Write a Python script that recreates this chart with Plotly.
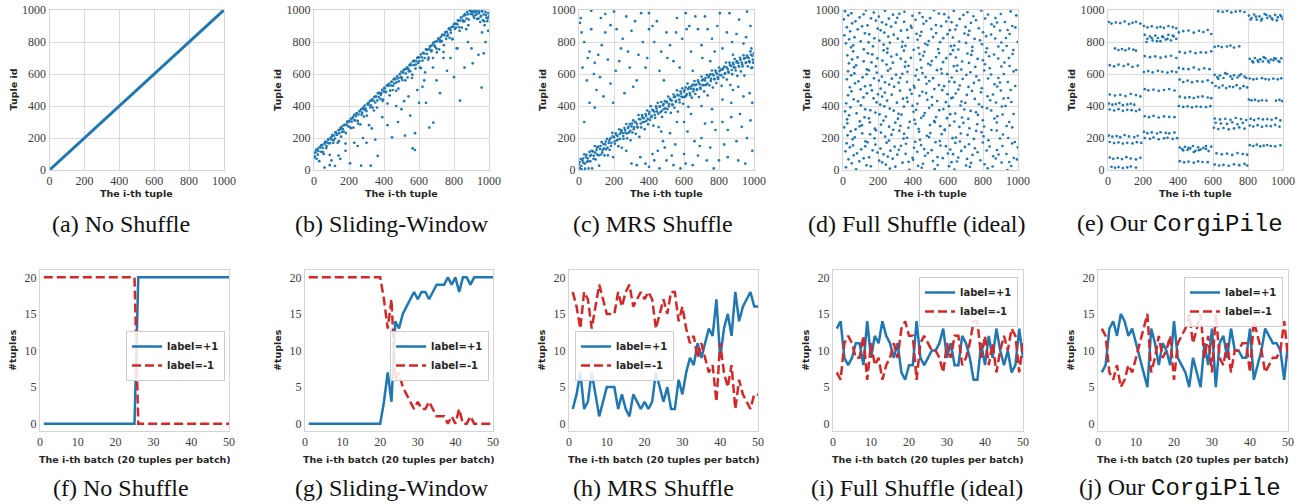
import plotly.graph_objects as go

# ---------------- data ----------------
# (a) No Shuffle: tuple id equals position
a_x = [0, 999]
a_y = [0, 999]

# (b) Sliding-Window: (i-th tuple, tuple id)
b_points = [
    (0, 107), (5, 85), (10, 111), (15, 70), (20, 132), (25, 118), (30, 55), (35, 140), (40, 114), (45, 155),
    (50, 138), (55, 100), (60, 163), (65, 178), (70, 137), (75, 172), (80, 189), (85, 167), (90, 95), (95, 201),
    (100, 190), (105, 219), (110, 170), (115, 215), (120, 197), (125, 236), (130, 225), (135, 170), (140, 248),
    (145, 230), (150, 254), (155, 208), (160, 272), (165, 256), (170, 240), (175, 282), (180, 165), (185, 284),
    (190, 303), (195, 273), (200, 305), (205, 268), (210, 320), (215, 302), (220, 322), (225, 265), (230, 344),
    (235, 310), (240, 336), (245, 354), (250, 307), (255, 347), (260, 366), (265, 285), (270, 381), (275, 358),
    (280, 381), (285, 334), (290, 403), (295, 384), (300, 368), (305, 413), (310, 408), (315, 280), (320, 432),
    (325, 404), (330, 434), (335, 390), (340, 434), (345, 455), (350, 422), (355, 458), (360, 390), (365, 479),
    (370, 456), (375, 482), (380, 444), (385, 482), (390, 501), (395, 440), (400, 491), (405, 510), (410, 486),
    (415, 528), (420, 415), (425, 525), (430, 539), (435, 496), (440, 528), (445, 551), (450, 500), (455, 567),
    (460, 542), (465, 567), (470, 495), (475, 585), (480, 573), (485, 554), (490, 598), (495, 579), (500, 614),
    (505, 562), (510, 609), (515, 430), (520, 631), (525, 603), (530, 633), (535, 578), (540, 630), (545, 654),
    (550, 617), (555, 656), (560, 575), (565, 678), (570, 655), (575, 681), (580, 634), (585, 681), (590, 700),
    (595, 668), (600, 704), (605, 640), (610, 722), (615, 704), (620, 683), (625, 732), (630, 728), (635, 610),
    (640, 754), (645, 725), (650, 752), (655, 702), (660, 754), (665, 774), (670, 741), (675, 780), (680, 700),
    (685, 798), (690, 777), (695, 803), (700, 759), (705, 805), (710, 821), (715, 754), (720, 812), (725, 831),
    (730, 805), (735, 847), (740, 737), (745, 842), (750, 859), (755, 820), (760, 863), (765, 847), (770, 884),
    (775, 826), (780, 875), (785, 892), (790, 817), (795, 896), (800, 911), (805, 882), (810, 915), (815, 760),
    (820, 910), (825, 935), (830, 892), (835, 934), (840, 953), (845, 890), (850, 936), (855, 963), (860, 930),
    (865, 969), (870, 880), (875, 987), (880, 973), (885, 940), (890, 996), (895, 975), (900, 998), (905, 972),
    (910, 990), (915, 950), (920, 985), (925, 968), (930, 995), (935, 978), (940, 946), (945, 991), (950, 925),
    (955, 964), (960, 998), (965, 937), (970, 972), (975, 905), (980, 988), (985, 952), (990, 930), (995, 981),
    (1000, 960),
    (2, 78), (12, 126), (22, 96), (32, 143), (42, 155), (52, 112), (62, 171), (72, 150), (82, 192), (92, 168),
    (102, 210), (112, 186), (122, 235), (132, 219), (142, 180), (152, 263), (162, 238), (172, 281), (182, 231),
    (192, 299), (202, 306), (212, 262), (222, 330), (232, 311), (242, 352), (252, 290), (262, 369), (272, 346),
    (282, 392), (292, 375), (302, 340), (312, 420), (322, 392), (332, 441), (342, 372), (352, 460), (362, 435),
    (372, 481), (382, 470), (392, 431), (402, 513), (412, 489), (422, 532), (432, 467), (442, 551), (452, 527),
    (462, 573), (472, 548), (482, 508), (492, 601), (502, 577), (512, 624), (522, 560), (532, 642), (542, 617),
    (552, 663), (562, 596), (572, 684), (582, 659), (592, 703), (602, 680), (612, 637), (622, 731), (632, 700),
    (642, 752), (652, 690), (662, 771), (672, 748), (682, 793), (692, 770), (702, 735), (712, 822), (722, 800),
    (732, 843), (742, 780), (752, 862), (762, 838), (772, 883), (782, 858), (792, 819), (802, 913), (812, 890),
    (822, 934), (832, 870), (842, 953), (852, 928), (862, 974), (872, 946), (882, 905), (892, 995), (902, 985),
    (912, 962), (922, 999), (932, 944), (942, 980), (952, 958), (962, 990), (972, 930), (982, 970), (992, 948),
    (564, 135), (577, 125), (682, 296), (659, 265), (834, 433), (958, 515), (907, 667), (970, 729),
    (520, 215), (577, 230), (446, 204), (364, 88), (269, 27), (324, 27), (206, 42), (120, 25),
    (60, 15), (90, 30), (150, 70), (250, 150), (300, 170), (350, 190), (420, 280), (480, 300),
    (500, 380), (550, 340), (600, 420), (620, 520), (640, 420), (700, 560), (720, 480), (760, 620),
    (780, 700), (800, 580), (820, 760), (860, 640), (880, 800), (900, 760), (940, 720), (960, 860),
    (980, 800), (995, 870), (740, 700), (680, 640), (630, 560), (590, 500), (540, 460), (470, 400),
    (390, 330), (330, 260), (280, 200), (230, 170), (180, 120), (140, 90), (100, 60),
]

# (c) MRS Shuffle
c_points = [
    (0, 35), (5, 12), (10, 68), (15, 4), (20, 58), (25, 45), (30, 98), (35, 8), (40, 80), (45, 51), (50, 72),
    (55, 10), (60, 113), (65, 54), (70, 94), (75, 10), (80, 116), (85, 89), (90, 150), (95, 66), (100, 125),
    (105, 96), (110, 146), (115, 27), (120, 131), (125, 97), (130, 174), (135, 126), (140, 162), (145, 91),
    (150, 160), (155, 129), (160, 194), (165, 92), (170, 169), (175, 126), (180, 199), (185, 170), (190, 232),
    (195, 81), (200, 204), (205, 164), (210, 229), (215, 185), (220, 212), (225, 149), (230, 254), (235, 195),
    (240, 238), (245, 139), (250, 231), (255, 195), (260, 262), (265, 233), (270, 287), (275, 198), (280, 262),
    (285, 234), (290, 287), (295, 186), (300, 273), (305, 234), (310, 310), (315, 266), (320, 300), (325, 226),
    (330, 289), (335, 265), (340, 343), (345, 207), (350, 317), (355, 266), (360, 343), (365, 300), (370, 323),
    (375, 255), (380, 350), (385, 307), (390, 372), (395, 286), (400, 350), (405, 313), (410, 399), (415, 338),
    (420, 376), (425, 277), (430, 365), (435, 326), (440, 398), (445, 366), (450, 420), (455, 268), (460, 398),
    (465, 361), (470, 425), (475, 332), (480, 404), (485, 381), (490, 431), (495, 361), (500, 422), (505, 381),
    (510, 459), (515, 412), (520, 444), (525, 357), (530, 434), (535, 406), (540, 472), (545, 389), (550, 459),
    (555, 432), (560, 498), (565, 365), (570, 465), (575, 422), (580, 492), (585, 459), (590, 511), (595, 414),
    (600, 490), (605, 457), (610, 516), (615, 475), (620, 540), (625, 395), (630, 516), (635, 467), (640, 508),
    (645, 452), (650, 534), (655, 507), (660, 556), (665, 475), (670, 534), (675, 505), (680, 560), (685, 456),
    (690, 536), (695, 507), (700, 584), (705, 531), (710, 566), (715, 491), (720, 560), (725, 531), (730, 594),
    (735, 466), (740, 578), (745, 529), (750, 598), (755, 569), (760, 622), (765, 515), (770, 592), (775, 567),
    (780, 622), (785, 543), (790, 600), (795, 569), (800, 640), (805, 595), (810, 627), (815, 526), (820, 627),
    (825, 578), (830, 646), (835, 605), (840, 672), (845, 565), (850, 631), (855, 608), (860, 671), (865, 531),
    (870, 650), (875, 599), (880, 670), (885, 641), (890, 693), (895, 622), (900, 673), (905, 588), (910, 668),
    (915, 647), (920, 701), (925, 616), (930, 672), (935, 647), (940, 717), (945, 590), (950, 700), (955, 673),
    (960, 715), (965, 648), (970, 700), (975, 673), (980, 741), (985, 638), (990, 714), (995, 671), (1000, 729),
    (3, 50), (13, 25), (23, 72), (33, 40), (43, 95), (53, 55), (63, 88), (73, 120), (83, 70), (93, 108),
    (103, 140), (113, 92), (123, 150), (133, 110), (143, 135), (153, 178), (163, 140), (173, 185), (183, 150),
    (193, 210), (203, 178), (213, 220), (223, 190), (233, 225), (243, 248), (253, 212), (263, 250), (273, 228),
    (283, 270), (293, 245), (303, 290), (313, 255), (323, 300), (333, 272), (343, 318), (353, 290), (363, 330),
    (373, 300), (383, 338), (393, 320), (403, 362), (413, 330), (423, 372), (433, 345), (443, 385), (453, 352),
    (463, 395), (473, 370), (483, 412), (493, 385), (503, 426), (513, 398), (523, 438), (533, 410), (543, 455),
    (553, 425), (563, 470), (573, 440), (583, 478), (593, 455), (603, 500), (613, 465), (623, 506), (633, 480),
    (643, 525), (653, 492), (663, 530), (673, 500), (683, 548), (693, 515), (703, 560), (713, 530), (723, 575),
    (733, 540), (743, 588), (753, 556), (763, 598), (773, 570), (783, 610), (793, 580), (803, 618), (813, 592),
    (823, 634), (833, 600), (843, 642), (853, 615), (863, 655), (873, 625), (883, 660), (893, 640), (903, 680),
    (913, 650), (923, 688), (933, 660), (943, 696), (953, 668), (963, 705), (973, 680), (983, 720), (993, 690),
    (10, 950), (6, 920), (70, 995), (125, 950), (150, 975), (180, 905), (30, 800), (60, 740), (90, 670),
    (20, 640), (45, 560), (120, 580), (180, 540), (210, 620), (250, 820), (240, 760), (300, 870), (320, 930),
    (340, 720), (380, 640), (400, 980), (420, 900), (430, 800), (470, 740), (500, 860), (520, 780), (540, 680),
    (560, 950), (590, 820), (630, 900), (640, 740), (680, 880), (700, 780), (720, 960), (760, 820), (790, 900),
    (820, 760), (860, 980), (900, 850), (940, 790), (980, 900), (960, 990), (140, 460), (90, 390), (30, 300),
    (60, 420), (260, 480), (230, 680), (330, 560), (150, 860), (460, 620), (610, 980), (750, 680), (880, 720),
    (990, 640), (400, 880), (280, 740), (70, 880), (110, 720), (200, 990), (300, 40), (350, 80), (400, 20),
    (450, 120), (500, 60), (550, 160), (600, 100), (650, 30), (700, 200), (750, 140), (800, 60), (850, 250),
    (900, 180), (950, 40), (980, 310), (920, 350), (870, 420), (820, 300), (760, 380), (720, 290), (680, 90),
    (620, 240), (580, 10), (520, 230), (480, 180), (420, 100), (380, 40), (460, 10), (990, 120), (930, 270),
    (850, 80), (770, 10), (560, 300), (640, 350), (700, 400), (880, 500), (940, 460), (990, 420), (660, 180),
    (540, 30), (15, 860), (50, 700), (85, 600), (100, 500), (130, 780), (165, 690), (195, 420), (215, 880),
    (270, 960), (290, 640), (310, 520), (355, 980), (365, 800), (390, 700), (445, 930), (485, 560), (505, 700),
    (555, 860), (575, 640), (615, 880), (650, 620), (665, 960), (705, 700), (735, 880), (775, 740), (805, 980),
    (845, 860), (875, 800), (915, 940), (955, 830), (985, 760), (270, 120), (330, 30), (430, 60), (490, 140),
    (530, 90), (610, 40), (690, 150), (730, 60), (780, 250), (830, 160), (870, 330), (910, 60), (960, 200),
    (975, 480), (910, 520), (820, 440), (760, 300), (600, 300), (470, 240),
]

# (d) Full Shuffle (ideal): rows of points (x values, y values)
d_rows = [
    ([12, 48, 131, 176, 240, 322, 351, 437, 520, 548, 633, 711, 790, 902, 958],
     [992, 979, 998, 984, 996, 976, 989, 981, 999, 978, 994, 986, 997, 975, 991]),
    ([30, 95, 118, 205, 286, 310, 397, 455, 579, 604, 688, 745, 829, 871, 990],
     [967, 954, 973, 959, 971, 951, 964, 956, 974, 953, 969, 961, 972, 950, 966]),
    ([5, 71, 160, 188, 262, 349, 415, 476, 498, 590, 667, 760, 812, 925],
     [942, 929, 948, 934, 946, 926, 939, 931, 949, 928, 944, 936, 947, 925]),
    ([52, 140, 223, 247, 301, 388, 460, 531, 620, 650, 731, 849, 880, 967],
     [917, 904, 923, 909, 921, 901, 914, 906, 924, 903, 919, 911, 922, 900]),
    ([22, 84, 109, 198, 275, 366, 392, 505, 561, 642, 700, 776, 864, 941, 985],
     [892, 879, 898, 884, 896, 876, 889, 881, 899, 878, 894, 886, 897, 875, 891]),
    ([41, 125, 215, 236, 331, 420, 448, 532, 611, 694, 722, 800, 897, 952],
     [867, 854, 873, 859, 871, 851, 864, 856, 874, 853, 869, 861, 872, 850]),
    ([8, 66, 150, 259, 290, 371, 441, 515, 597, 628, 716, 818, 846, 931],
     [842, 829, 848, 834, 846, 826, 839, 831, 849, 828, 844, 836, 847, 825]),
    ([35, 101, 179, 208, 313, 340, 426, 490, 573, 664, 752, 783, 870, 998],
     [817, 804, 823, 809, 821, 801, 814, 806, 824, 803, 819, 811, 822, 800]),
    ([17, 58, 146, 232, 268, 357, 470, 483, 555, 636, 703, 794, 905, 935],
     [792, 779, 798, 784, 796, 776, 789, 781, 799, 778, 794, 786, 797, 775]),
    ([46, 119, 171, 254, 337, 404, 431, 544, 617, 659, 739, 822, 888, 973],
     [767, 754, 773, 759, 771, 751, 764, 756, 774, 753, 769, 761, 772, 750]),
    ([58, 142, 232, 253, 348, 437, 465, 549, 628, 711, 739, 817, 914, 969],
     [742, 729, 748, 734, 746, 726, 739, 731, 749, 728, 744, 736, 747, 725]),
    ([25, 83, 167, 276, 307, 388, 458, 532, 614, 645, 733, 835, 863, 948],
     [717, 704, 723, 709, 721, 701, 714, 706, 724, 703, 719, 711, 722, 700]),
    ([52, 118, 196, 225, 330, 357, 443, 507, 590, 681, 769, 800, 887],
     [692, 679, 698, 684, 696, 676, 689, 681, 699, 678, 694, 686, 697]),
    ([34, 75, 163, 249, 285, 374, 487, 500, 572, 653, 720, 811, 922, 952],
     [667, 654, 673, 659, 671, 651, 664, 656, 674, 653, 669, 661, 672, 650]),
    ([63, 136, 188, 271, 354, 421, 448, 561, 634, 676, 756, 839, 905, 990],
     [642, 629, 648, 634, 646, 626, 639, 631, 649, 628, 644, 636, 647, 625]),
    ([29, 65, 148, 193, 257, 339, 368, 454, 537, 565, 650, 728, 807, 919, 975],
     [617, 604, 623, 609, 621, 601, 614, 606, 624, 603, 619, 611, 622, 600, 616]),
    ([47, 112, 135, 222, 303, 327, 414, 472, 596, 621, 705, 762, 846, 888],
     [592, 579, 598, 584, 596, 576, 589, 581, 599, 578, 594, 586, 597, 575]),
    ([22, 88, 177, 205, 279, 366, 432, 493, 515, 607, 684, 777, 829, 942],
     [567, 554, 573, 559, 571, 551, 564, 556, 574, 553, 569, 561, 572, 550]),
    ([69, 157, 240, 264, 318, 405, 477, 548, 637, 667, 748, 866, 897, 984],
     [542, 529, 548, 534, 546, 526, 539, 531, 549, 528, 544, 536, 547, 525]),
    ([39, 101, 126, 215, 292, 383, 409, 522, 578, 659, 717, 793, 881, 958],
     [517, 504, 523, 509, 521, 501, 514, 506, 524, 503, 519, 511, 522, 500]),
    ([48, 137, 165, 239, 326, 392, 453, 475, 567, 644, 737, 789, 902],
     [492, 479, 498, 484, 496, 476, 489, 481, 499, 478, 494, 486, 497]),
    ([29, 117, 200, 224, 278, 365, 437, 508, 597, 627, 708, 826, 857, 944],
     [467, 454, 473, 459, 471, 451, 464, 456, 474, 453, 469, 461, 472, 450]),
    ([61, 86, 175, 252, 343, 369, 482, 538, 619, 677, 753, 841, 918, 962],
     [442, 429, 448, 434, 446, 426, 439, 431, 449, 428, 444, 436, 447, 425]),
    ([18, 102, 192, 213, 308, 397, 425, 509, 588, 671, 699, 777, 874, 929],
     [417, 404, 423, 409, 421, 401, 414, 406, 424, 403, 419, 411, 422, 400]),
    ([43, 127, 236, 267, 348, 418, 492, 574, 605, 693, 795, 823, 908],
     [392, 379, 398, 384, 396, 376, 389, 381, 399, 378, 394, 386, 397]),
    ([12, 78, 156, 185, 290, 317, 403, 467, 550, 641, 729, 760, 847, 975],
     [367, 354, 373, 359, 371, 351, 364, 356, 374, 353, 369, 361, 372, 350]),
    ([35, 123, 209, 245, 334, 447, 460, 532, 613, 680, 771, 882, 912],
     [342, 329, 348, 334, 346, 326, 339, 331, 349, 328, 344, 336, 347]),
    ([23, 96, 148, 231, 314, 381, 408, 521, 594, 636, 716, 799, 865, 950],
     [317, 304, 323, 309, 321, 301, 314, 306, 324, 303, 319, 311, 322, 300]),
    ([25, 108, 153, 217, 299, 328, 414, 497, 525, 610, 688, 767, 879, 935],
     [292, 279, 298, 284, 296, 276, 289, 281, 299, 278, 294, 286, 297, 275]),
    ([7, 72, 95, 182, 263, 287, 374, 432, 556, 581, 665, 722, 806, 848, 967],
     [267, 254, 273, 259, 271, 251, 264, 256, 274, 253, 269, 261, 272, 250, 266]),
    ([44, 110, 188, 217, 322, 349, 435, 499, 582, 673, 761, 792, 879],
     [242, 229, 248, 234, 246, 226, 239, 231, 249, 228, 244, 236, 247]),
    ([26, 67, 155, 241, 277, 366, 479, 492, 564, 645, 712, 803, 914, 944],
     [217, 204, 223, 209, 221, 201, 214, 206, 224, 203, 219, 211, 222, 200]),
    ([55, 128, 180, 263, 346, 413, 440, 553, 626, 668, 748, 831, 897, 982],
     [192, 179, 198, 184, 196, 176, 189, 181, 199, 178, 194, 186, 197, 175]),
    ([21, 57, 140, 185, 249, 331, 360, 446, 529, 557, 642, 720, 799, 911, 967],
     [167, 154, 173, 159, 171, 151, 164, 156, 174, 153, 169, 161, 172, 150, 166]),
    ([39, 104, 127, 214, 295, 319, 406, 464, 588, 613, 697, 754, 838, 880, 999],
     [142, 129, 148, 134, 146, 126, 139, 131, 149, 128, 144, 136, 147, 125, 141]),
    ([14, 80, 169, 197, 271, 358, 424, 485, 507, 599, 676, 769, 821, 934],
     [117, 104, 123, 109, 121, 101, 114, 106, 124, 103, 119, 111, 122, 100]),
    ([61, 149, 232, 256, 310, 397, 469, 540, 629, 659, 740, 858, 889, 976],
     [92, 79, 98, 84, 96, 76, 89, 81, 99, 78, 94, 86, 97, 75]),
    ([31, 93, 118, 207, 284, 375, 401, 514, 570, 651, 709, 785, 873, 950, 994],
     [67, 54, 73, 59, 71, 51, 64, 56, 74, 53, 69, 61, 72, 50, 66]),
    ([50, 134, 224, 245, 340, 429, 457, 541, 620, 703, 731, 809, 906, 961],
     [42, 29, 48, 34, 46, 26, 39, 31, 49, 28, 44, 36, 47, 25]),
    ([17, 75, 159, 268, 299, 380, 450, 524, 606, 637, 725, 827, 855, 940],
     [17, 4, 23, 9, 21, 1, 14, 6, 24, 3, 19, 11, 22, 0]),
]

# (e) CorgiPile: horizontal strips inside each block (x values, y values)
e_strips = [
    ([5, 20, 45, 70, 95, 120, 140, 160, 185], [925, 915, 922, 918, 928, 912, 920, 926, 915]),
    ([40, 60, 80, 100, 120, 145, 160], [760, 750, 756, 748, 758, 752, 746]),
    ([10, 35, 60, 90, 115, 140, 170], [655, 648, 658, 650, 660, 645, 652]),
    ([10, 40, 70, 100, 130, 160, 185], [472, 465, 470, 462, 475, 468, 460]),
    ([5, 25, 45, 65, 85, 110, 130, 150], [415, 408, 412, 418, 405, 410, 414, 408]),
    ([10, 35, 60, 85, 110, 135, 160, 180], [378, 372, 380, 370, 376, 374, 368, 377]),
    ([5, 25, 50, 70, 95, 120, 150, 170], [215, 208, 212, 205, 218, 210, 206, 214]),
    ([10, 35, 60, 85, 110, 140, 165, 190], [175, 168, 172, 165, 170, 166, 174, 169]),
    ([10, 30, 55, 80, 105, 130, 160, 185], [78, 70, 75, 68, 80, 72, 66, 76]),
    ([20, 40, 60, 85, 110, 130, 160], [20, 14, 18, 12, 16, 22, 15]),
    ([205, 225, 250, 280, 300, 320, 345, 370, 390], [900, 892, 898, 890, 895, 888, 900, 893, 886]),
    ([210, 225, 240, 255, 270, 285, 300, 315, 330, 345, 360, 375, 390, 220, 250, 280, 310, 340, 370],
     [845, 820, 835, 810, 840, 825, 805, 830, 815, 845, 810, 835, 820, 800, 825, 805, 835, 820, 840]),
    ([210, 240, 270, 300, 330, 360, 390], [712, 705, 710, 702, 708, 714, 700]),
    ([205, 230, 255, 285, 310, 340, 365, 390], [612, 618, 610, 620, 614, 608, 616, 612]),
    ([210, 230, 260, 290, 320, 350, 380], [505, 498, 502, 495, 500, 506, 497]),
    ([210, 235, 260, 290, 320, 350, 380], [336, 330, 338, 328, 335, 332, 330]),
    ([205, 225, 250, 280, 300, 330, 350, 380], [238, 230, 235, 228, 236, 232, 229, 234]),
    ([210, 240, 260, 290, 320, 340, 370, 395], [200, 195, 203, 192, 198, 201, 194, 199]),
    ([405, 430, 460, 490, 520, 545, 570, 590], [860, 868, 872, 858, 870, 862, 875, 850]),
    ([410, 440, 470, 500, 530, 560, 590], [738, 732, 740, 730, 736, 734, 742]),
    ([405, 430, 460, 490, 520, 550, 580], [638, 632, 630, 640, 628, 636, 630]),
    ([410, 430, 455, 480, 510, 540, 570, 595], [565, 550, 558, 548, 555, 552, 560, 545]),
    ([410, 440, 465, 490, 515, 540, 570, 590], [458, 452, 455, 450, 457, 460, 453, 449]),
    ([405, 430, 455, 480, 505, 530, 560, 585], [400, 394, 398, 392, 397, 395, 393, 399]),
    ([410, 425, 440, 455, 470, 485, 500, 515, 530, 545, 560, 575, 590, 430, 460, 490, 520, 560],
     [140, 130, 145, 125, 135, 150, 120, 142, 128, 138, 132, 118, 146, 122, 138, 112, 124, 150]),
    ([410, 435, 460, 490, 515, 540, 570], [55, 48, 52, 46, 54, 50, 49]),
    ([630, 655, 680, 705, 730, 755, 780], [992, 988, 995, 985, 990, 993, 987]),
    ([610, 630, 650, 680, 700, 720, 750], [770, 775, 768, 772, 778, 765, 773]),
    ([610, 625, 640, 660, 680, 700, 720, 740, 760, 780, 630, 670, 710, 750, 790],
     [595, 580, 590, 575, 600, 585, 592, 578, 598, 584, 570, 605, 570, 590, 575]),
    ([615, 635, 655, 675, 695, 715, 735, 755, 775, 795], [525, 515, 528, 512, 522, 518, 530, 510, 524, 516]),
    ([610, 640, 670, 700, 730, 760, 790], [322, 316, 320, 314, 325, 318, 312]),
    ([615, 645, 680, 710, 740, 770], [295, 290, 288, 298, 286, 294]),
    ([605, 630, 660, 690, 720, 750, 780], [264, 256, 262, 254, 260, 266, 258]),
    ([620, 650, 680, 710, 740, 770, 795], [104, 98, 102, 94, 106, 100, 96]),
    ([610, 635, 660, 690, 720, 750, 780, 795], [34, 28, 32, 26, 36, 30, 38, 28]),
    ([805, 820, 835, 850, 865, 880, 895, 910, 925, 940, 955, 970, 985, 998, 815, 845, 875, 905, 935, 965, 990],
     [965, 950, 972, 940, 960, 945, 975, 950, 962, 940, 970, 955, 968, 945, 940, 958, 935, 968, 950, 935, 960]),
    ([810, 825, 840, 855, 870, 885, 900, 915, 930, 945, 960, 975, 990, 830, 860, 890, 920, 950, 980],
     [695, 680, 700, 685, 692, 678, 698, 682, 690, 686, 694, 680, 698, 672, 675, 705, 672, 700, 676]),
    ([810, 830, 850, 880, 900, 920, 945, 970, 990], [572, 566, 570, 574, 568, 565, 571, 567, 573]),
    ([805, 820, 840, 860, 880, 905, 960, 980, 995], [440, 435, 438, 432, 436, 434, 433, 438, 431]),
    ([815, 835, 860, 885, 910, 935, 960, 985], [320, 312, 322, 316, 318, 314, 324, 310]),
    ([810, 830, 855, 880, 905, 930, 955, 980], [278, 272, 280, 270, 276, 274, 282, 271]),
    ([810, 830, 850, 870, 890, 910, 930, 955, 985], [155, 150, 158, 148, 152, 156, 150, 148, 154]),
]

# bottom row: number of tuples per batch with each label
batch = list(range(1, 51))
f_pos = [0] * 25 + [20] * 25
f_neg = [20] * 25 + [0] * 25
g_pos = [0] * 20 + [3, 7, 3, 14, 13, 15, 16, 17, 18, 17, 18, 18, 17, 18, 19, 19, 19, 20, 19, 20,
                    18, 20, 20, 19, 20, 20, 20, 20, 20, 20]
g_neg = [20] * 20 + [17, 13, 17, 6, 7, 5, 4, 3, 2, 3, 2, 2, 3, 2, 1, 1, 1, 0, 1, 0,
                     2, 0, 0, 1, 0, 0, 0, 0, 0, 0]
h_pos = [2, 4, 7, 2, 3, 7, 4, 1, 3, 5, 5, 5, 2, 4, 2, 1, 4, 3, 2, 3, 2, 3, 7, 5, 3, 5, 2, 2, 6, 4,
         7, 9, 8, 11, 9, 11, 13, 12, 17, 9, 13, 15, 12, 18, 14, 16, 17, 18, 16, 16]
h_neg = [18, 16, 13, 18, 17, 13, 16, 19, 17, 15, 15, 15, 18, 16, 18, 19, 16, 17, 18, 17, 18, 17, 13, 15, 17,
         15, 18, 18, 14, 16, 13, 11, 12, 9, 11, 9, 7, 8, 3, 11, 7, 5, 8, 2, 6, 4, 3, 2, 4, 4]
i_pos = [13, 14, 9, 8, 9, 11, 11, 8, 14, 9, 12, 11, 14, 12, 11, 9, 11, 7, 6, 8, 8, 14, 9, 8, 9,
         10, 10, 11, 13, 9, 11, 8, 8, 12, 11, 9, 6, 6, 11, 8, 12, 9, 13, 10, 8, 10, 7, 8, 13, 9]
i_neg = [7, 6, 11, 12, 11, 9, 9, 12, 6, 11, 8, 9, 6, 8, 9, 11, 9, 13, 14, 12, 12, 6, 11, 12, 11,
         10, 10, 9, 7, 11, 9, 12, 12, 8, 9, 11, 14, 14, 9, 12, 8, 11, 7, 10, 12, 10, 13, 12, 7, 11]
j_pos = [7, 8, 13, 14, 12, 15, 14, 12, 13, 11, 9, 7, 5, 13, 11, 8, 11, 10, 8, 14, 9, 8, 7, 5, 9,
         7, 5, 11, 8, 13, 5, 11, 12, 9, 13, 10, 10, 9, 9, 13, 6, 8, 10, 13, 12, 11, 11, 10, 6, 11]
j_neg = [13, 12, 7, 6, 8, 5, 6, 8, 7, 9, 11, 13, 15, 7, 9, 12, 9, 10, 12, 6, 11, 12, 13, 15, 11,
         13, 15, 9, 12, 7, 15, 9, 8, 11, 7, 10, 10, 11, 11, 7, 14, 12, 10, 7, 8, 9, 9, 10, 14, 9]

top_captions = ["(a) No Shuffle", "(b) Sliding-Window", "(c) MRS Shuffle", "(d) Full Shuffle (ideal)",
                "(e) Our <span style=\"font-family:'Liberation Mono'\">CorgiPile</span>"]
bot_captions = ["(f) No Shuffle", "(g) Sliding-Window", "(h) MRS Shuffle", "(i) Full Shuffle (ideal)",
                "(j) Our <span style=\"font-family:'Liberation Mono'\">CorgiPile</span>"]
scatter_ticks = [0, 200, 400, 600, 800, 1000]
batch_xticks = [0, 10, 20, 30, 40, 50]
batch_yticks = [0, 5, 10, 15, 20]

# ---------------- layout helpers ----------------
W, H = 1304, 504
def px(x): return x / W
def py(y): return 1 - y / H

BLUE = "#1f77b4"
RED = "#d62728"
TICKFONT = dict(family="Liberation Serif", size=12, color="#3c3c3c")
TITLEFONT = dict(family="DejaVu Sans", size=9.5, color="#262626")
CAPFONT = dict(family="Liberation Serif", size=24, color="#111111")

top_x = [(49.5, 224), (314, 489), (579, 754), (843, 1018), (1108, 1283)]
top_y = (10, 170)
bot_x = [(40, 229), (305, 493), (569, 758), (833, 1023), (1098, 1288)]
bot_y = (270, 431)
cap_cx = [121, 392, 653, 917, 1180]
legend_pos = [(126, 331), (390, 331), (575, 331), (919, 277), (1184, 277)]

def unpairs(pairs):
    return [p[0] for p in pairs], [p[1] for p in pairs]

def unrows(rows):
    xs, ys = [], []
    for rx, ry in rows:
        xs += rx; ys += ry
    return xs, ys

fig = go.Figure()
layout = dict(width=W, height=H, margin=dict(l=0, r=0, t=0, b=0), template="none",
              paper_bgcolor="white", plot_bgcolor="white", showlegend=True)
annotations = []

scatter_sets = [None, unpairs(b_points), unpairs(c_points), unrows(d_rows), unrows(e_strips)]

axis_common = dict(zeroline=False, showline=True, linecolor="#d4d4d4", linewidth=1, mirror=True,
                   ticks="", tickfont=TICKFONT, automargin=False, fixedrange=True)

for i in range(5):
    k = i + 1
    xa, ya = ("x" if k == 1 else f"x{k}"), ("y" if k == 1 else f"y{k}")
    sfx = "" if k == 1 else str(k)
    x0, x1 = top_x[i]
    layout[f"xaxis{sfx}"] = dict(domain=[px(x0), px(x1)], anchor=ya, range=[0, 1000], tickvals=scatter_ticks,
                                 showgrid=True, gridcolor="#dcdcdc", gridwidth=1, **axis_common)
    layout[f"yaxis{sfx}"] = dict(domain=[py(top_y[1]), py(top_y[0])], anchor=xa, range=[0, 1000],
                                 tickvals=scatter_ticks, showgrid=True, gridcolor="#dcdcdc", gridwidth=1,
                                 **axis_common)
    if i == 0:
        fig.add_trace(go.Scatter(x=a_x, y=a_y, mode="lines", line=dict(color=BLUE, width=3),
                                 xaxis=xa, yaxis=ya, showlegend=False))
    else:
        sx, sy = scatter_sets[i]
        fig.add_trace(go.Scatter(x=sx, y=sy, mode="markers",
                                 marker=dict(color=BLUE, size=2.7, line=dict(width=0)),
                                 xaxis=xa, yaxis=ya, showlegend=False))
    cx = (x0 + x1) / 2
    annotations.append(dict(x=px(cx), y=py(193), xref="paper", yref="paper", text="<b>The i-th tuple</b>",
                            showarrow=False, font=TITLEFONT, xanchor="center", yanchor="middle"))
    annotations.append(dict(x=px(x0 - 37), y=py(90), xref="paper", yref="paper", text="<b>Tuple id</b>",
                            showarrow=False, font=TITLEFONT, textangle=-90, xanchor="center", yanchor="middle"))
    annotations.append(dict(x=px(cap_cx[i]), y=py(224), xref="paper", yref="paper", text=top_captions[i],
                            showarrow=False, font=CAPFONT, xanchor="center", yanchor="middle"))

line_sets = [(f_pos, f_neg), (g_pos, g_neg), (h_pos, h_neg), (i_pos, i_neg), (j_pos, j_neg)]
for i in range(5):
    k = i + 6
    xa, ya = f"x{k}", f"y{k}"
    x0, x1 = bot_x[i]
    layout[f"xaxis{k}"] = dict(domain=[px(x0), px(x1)], anchor=ya, range=[0, 50], tickvals=batch_xticks,
                               showgrid=False, **axis_common)
    layout[f"yaxis{k}"] = dict(domain=[py(bot_y[1]), py(bot_y[0])], anchor=xa, range=[-1, 21],
                               tickvals=batch_yticks, showgrid=False, **axis_common)
    lg = "legend" if i == 0 else f"legend{i + 1}"
    pos, neg = line_sets[i]
    fig.add_trace(go.Scatter(x=batch, y=pos, mode="lines", name="<b>label=+1</b>",
                             line=dict(color=BLUE, width=2.5), xaxis=xa, yaxis=ya, legend=lg))
    fig.add_trace(go.Scatter(x=batch, y=neg, mode="lines", name="<b>label=-1</b>",
                             line=dict(color=RED, width=2.5, dash="9px,4px"), xaxis=xa, yaxis=ya, legend=lg))
    lx, ly = legend_pos[i]
    layout[lg] = dict(x=px(lx), y=py(ly), xanchor="left", yanchor="top", bgcolor="rgba(255,255,255,0.85)",
                      bordercolor="#cccccc", borderwidth=1, itemwidth=30,
                      font=dict(family="DejaVu Sans", size=10, color="#262626"), tracegroupgap=0)
    cx = (x0 + x1) / 2
    annotations.append(dict(x=px(cx), y=py(459), xref="paper", yref="paper",
                            text="<b>The i-th batch (20 tuples per batch)</b>",
                            showarrow=False, font=TITLEFONT, xanchor="center", yanchor="middle"))
    annotations.append(dict(x=px(x0 - 28), y=py(350), xref="paper", yref="paper", text="<b>#tuples</b>",
                            showarrow=False, font=TITLEFONT, textangle=-90, xanchor="center", yanchor="middle"))
    annotations.append(dict(x=px(cap_cx[i]), y=py(488), xref="paper", yref="paper", text=bot_captions[i],
                            showarrow=False, font=CAPFONT, xanchor="center", yanchor="middle"))

layout["annotations"] = annotations
fig.update_layout(**layout)
# remove the browser's default 8px page margin so the figure fills the window exactly; hide the mode bar
fig.write_html("out.html", config={"displayModeBar": False},
               post_script="document.body.style.margin='0';")
